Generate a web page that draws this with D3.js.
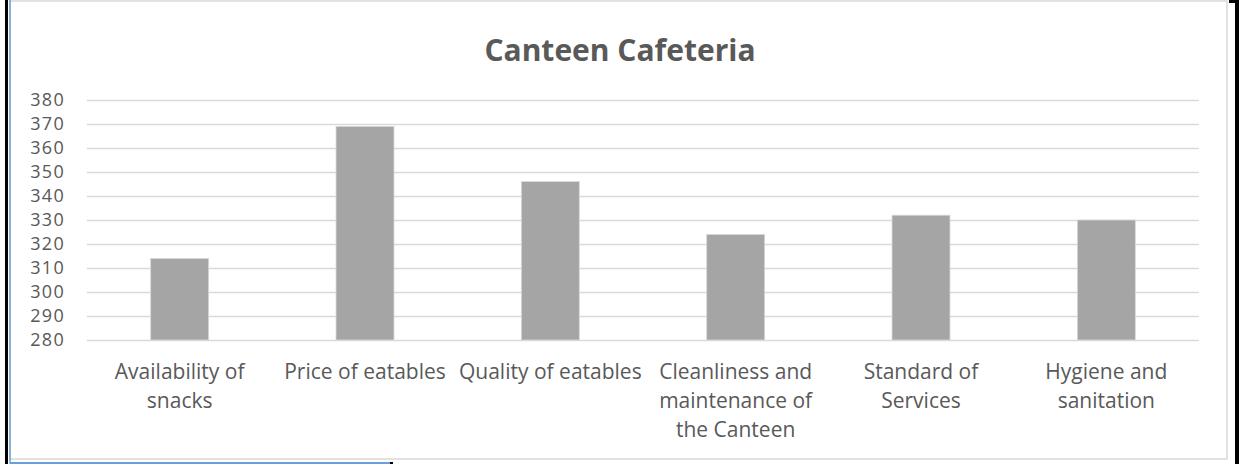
<!DOCTYPE html>
<meta charset="utf-8">
<script src="https://d3js.org/d3.v7.min.js"></script>
<style>
  body { margin: 0; background: #fff; }
  svg text { font-family: "Open Sans", Lato, sans-serif; fill: #595959; }
</style>
<div id="chart"></div>
<script>

// data
let categories = [
  ["Availability of", "snacks"],
  ["Price of eatables"],
  ["Quality of eatables"],
  ["Cleanliness and", "maintenance of", "the Canteen"],
  ["Standard of", "Services"],
  ["Hygiene and", "sanitation"]
];
let values = [314, 369, 346, 324, 332, 330];
let yTicks = [280, 290, 300, 310, 320, 330, 340, 350, 360, 370, 380];
let title = "Canteen Cafeteria";

let W = 1239, H = 464;
let margin = {top: 100, right: 40, bottom: 124, left: 87};

let svg = d3.select("#chart")
  .append("svg")
    .attr("width", W)
    .attr("height", H);

// frame / page borders
svg.append("rect").attr("x", 10).attr("y", 1).attr("width", 1217).attr("height", 458)
  .attr("fill", "#fff").attr("stroke", "#d9d9d9").attr("stroke-width", 1.5);
svg.append("rect").attr("x", 5).attr("y", 0).attr("width", 3).attr("height", H).attr("fill", "#000");
svg.append("line").attr("x1", 10).attr("x2", 10).attr("y1", 0).attr("y2", H)
  .attr("stroke", "#6a9fd8").attr("stroke-width", 1.5);
svg.append("rect").attr("x", 10).attr("y", 462).attr("width", 380).attr("height", 2).attr("fill", "#6a9fd8");
svg.append("rect").attr("x", 390).attr("y", 462).attr("width", 3).attr("height", 2).attr("fill", "#000");
svg.append("rect").attr("x", 1229).attr("y", 0).attr("width", 10).attr("height", 3).attr("fill", "#000");
svg.append("rect").attr("x", 1235).attr("y", 0).attr("width", 4).attr("height", H).attr("fill", "#000");

let g = svg.append("g")
  .attr("transform", "translate(" + margin.left + "," + margin.top + ")");

let width = 1199 - margin.left,
    height = 340 - margin.top;

let x = d3.scaleBand()
  .domain(d3.range(categories.length))
  .range([0, width]);

let y = d3.scaleLinear()
  .domain([280, 380])
  .range([height, 0]);

// gridlines
g.append("g")
  .call(d3.axisLeft(y).tickValues(yTicks).tickSize(-width).tickFormat(""))
  .call(a => a.select(".domain").remove())
  .call(a => a.selectAll("line").attr("stroke", "#d9d9d9").attr("stroke-width", 1.5));

// y labels
g.append("g")
  .call(d3.axisLeft(y).tickValues(yTicks).tickSize(0).tickPadding(22))
  .call(a => a.select(".domain").remove())
  .call(a => a.selectAll("text").style("font-size", "18px").style("letter-spacing", "1.3px").attr("fill", "#595959"));

// bars
let bw = 58;
g.selectAll("rect.bar")
  .data(values)
  .enter()
  .append("rect")
    .attr("class", "bar")
    .attr("x", (d, i) => x(i) + x.bandwidth() / 2 - bw / 2)
    .attr("y", d => y(d))
    .attr("width", bw)
    .attr("height", d => height - y(d))
    .attr("fill", "#a5a5a5")
    .attr("stroke", "#d9d9d9")
    .attr("stroke-width", 0.8);

// x labels
let xl = g.append("g").attr("transform", "translate(0," + height + ")");
categories.forEach((lines, i) => {
  let t = xl.append("text")
    .attr("x", x(i) + x.bandwidth() / 2)
    .attr("text-anchor", "middle")
    .style("font-size", "21px");
  lines.forEach((s, j) => {
    t.append("tspan")
      .attr("x", x(i) + x.bandwidth() / 2)
      .attr("y", 39 + j * 29)
      .text(s);
  });
});

// title
svg.append("text")
  .attr("x", 620)
  .attr("y", 61)
  .attr("text-anchor", "middle")
  .style("font-size", "30px")
  .style("font-weight", "bold")
  .text(title);

</script>
